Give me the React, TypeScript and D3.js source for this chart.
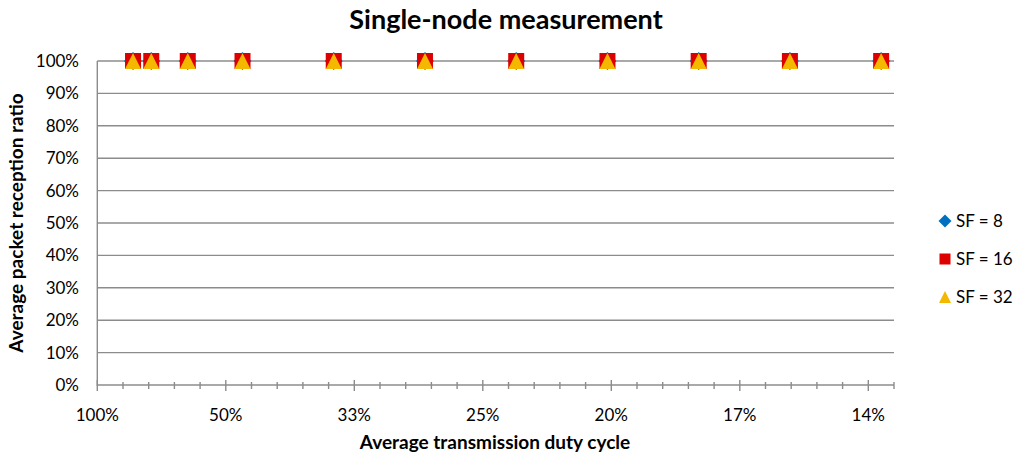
import React from "react";
import * as d3 from "d3";

const xValues = [1.278, 1.42, 1.704, 2.13, 2.84, 3.55, 4.26, 4.97, 5.68, 6.39, 7.1];
const sf8 = [1, 1, 1, 1, 1, 1, 1, 1, 1, 1, 1];
const sf16 = [1, 1, 1, 1, 1, 1, 1, 1, 1, 1, 1];
const sf32 = [1, 1, 1, 1, 1, 1, 1, 1, 1, 1, 1];
const xMajorTicks = [1, 2, 3, 4, 5, 6, 7];
const xTickLabels = ["100%", "50%", "33%", "25%", "20%", "17%", "14%"];
const yTicks = [0, 0.1, 0.2, 0.3, 0.4, 0.5, 0.6, 0.7, 0.8, 0.9, 1];
const seriesNames = ["SF = 8", "SF = 16", "SF = 32"];

const W = 1024;
const H = 463;
const FONT = "Lato, 'Open Sans', sans-serif";
const GRID = "#8c8c8c";
const COLORS = ["#0070c0", "#dd0000", "#f5b800"];

export default function App() {
  const x = d3.scaleLinear().domain([1, 7.2]).range([97.3, 894]);
  const y = d3.scaleLinear().domain([0, 1]).range([385, 61]);
  const minor = d3.range(0, 32).map((i) => 1 + i * 0.2);

  const square = (cx: number, cy: number, s: number) => (
    <rect x={cx - s / 2} y={cy - s / 2} width={s} height={s} />
  );
  const tri = (cx: number, cy: number, s: number) =>
    `M${cx},${cy - s / 2}L${cx + s / 2},${cy + s / 2}L${cx - s / 2},${cy + s / 2}Z`;
  const dia = (cx: number, cy: number, s: number) =>
    `M${cx},${cy - s / 2}L${cx + s / 2},${cy}L${cx},${cy + s / 2}L${cx - s / 2},${cy}Z`;

  const series = [sf8, sf16, sf32];
  const legendY = [221, 259, 297];

  return (
    <svg width={W} height={H} style={{ display: "block", position: "absolute", left: 0, top: 0 }}>
      <rect width={W} height={H} fill="#fff" />
      <text x={506} y={29} textAnchor="middle" fontFamily={FONT} fontWeight="bold" fontSize={27} fill="#000">
        Single-node measurement
      </text>
      {yTicks.map((t) => (
        <g key={t}>
          <line x1={x(1)} x2={x(7.2)} y1={y(t)} y2={y(t)} stroke={GRID} strokeWidth={1.4} />
          <text x={79} y={y(t)} dy="0.35em" textAnchor="end" fontFamily={FONT} fontSize={17} fill="#000">
            {Math.round(t * 100)}%
          </text>
        </g>
      ))}
      <line x1={x(1)} x2={x(1)} y1={y(1)} y2={y(0) + 1} stroke={GRID} strokeWidth={1.4} />
      {minor.map((v, i) => (
        <line
          key={i}
          x1={x(v)}
          x2={x(v)}
          y1={i % 5 === 0 ? 380 : 382}
          y2={i % 5 === 0 ? 391 : 389}
          stroke={GRID}
          strokeWidth={1.4}
        />
      ))}
      {xMajorTicks.map((t, i) => (
        <text key={t} x={x(t)} y={421} textAnchor="middle" fontFamily={FONT} fontSize={17} fill="#000">
          {xTickLabels[i]}
        </text>
      ))}
      <text x={495} y={449} textAnchor="middle" fontFamily={FONT} fontWeight="bold" fontSize={19} fill="#000">
        Average transmission duty cycle
      </text>
      <text
        transform={`translate(23,223) rotate(-90)`}
        textAnchor="middle"
        fontFamily={FONT}
        fontWeight="bold"
        fontSize={19}
        fill="#000"
      >
        Average packet reception ratio
      </text>
      <g fill={COLORS[0]}>
        {xValues.map((v, i) => (
          <path key={i} d={dia(x(v), y(series[0][i]), 18)} />
        ))}
      </g>
      <g fill={COLORS[1]}>
        {xValues.map((v, i) => (
          <React.Fragment key={i}>{square(x(v), y(series[1][i]), 16)}</React.Fragment>
        ))}
      </g>
      <g fill={COLORS[2]}>
        {xValues.map((v, i) => (
          <path key={i} d={tri(x(v), y(series[2][i]), 16)} />
        ))}
      </g>
      {seriesNames.map((name, i) => (
        <g key={name}>
          {i === 0 && <path d={dia(945, legendY[i], 13)} fill={COLORS[0]} />}
          {i === 1 && <g fill={COLORS[1]}>{square(945, legendY[i], 11)}</g>}
          {i === 2 && <path d={tri(945, legendY[i], 12)} fill={COLORS[2]} />}
          <text x={956} y={legendY[i]} dy="0.36em" fontFamily={FONT} fontSize={17} fill="#000">
            {name}
          </text>
        </g>
      ))}
    </svg>
  );
}
